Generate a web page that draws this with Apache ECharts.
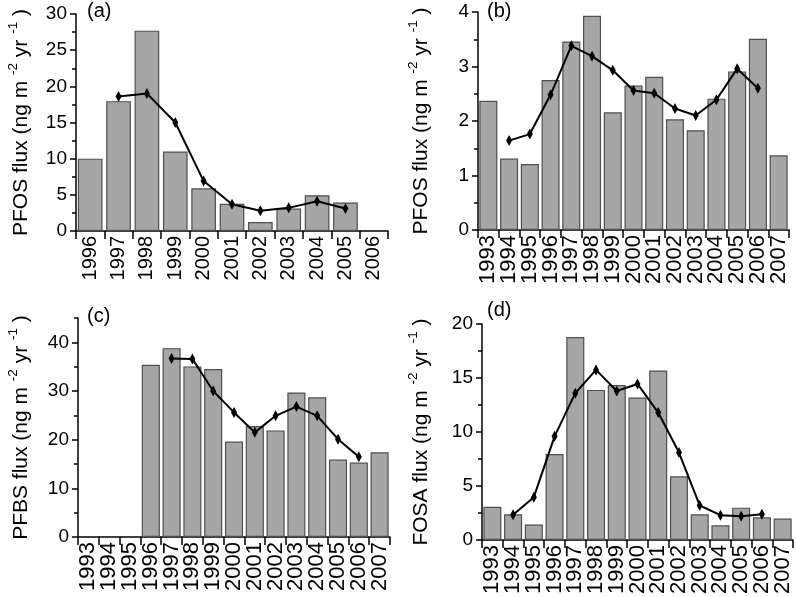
<!DOCTYPE html>
<html>
<head>
<meta charset="utf-8">
<script src="https://cdn.jsdelivr.net/npm/echarts@6/dist/echarts.min.js"></script>
<style>html,body{margin:0;padding:0;background:#fff}#c{width:796px;height:597px}</style>
</head>
<body>
<div id="c"></div>
<script>
// ---- data ----
var yearsA = ['1996','1997','1998','1999','2000','2001','2002','2003','2004','2005','2006'];
var yearsB = ['1993','1994','1995','1996','1997','1998','1999','2000','2001','2002','2003','2004','2005','2006','2007'];

var aBars = [10.0, 17.95, 27.7, 11.0, 5.9, 3.75, 1.25, 3.1, 4.95, 3.95, null];
var aLine = [null, 18.6, 19.0, 15.0, 6.9, 3.7, 2.8, 3.2, 4.1, 3.1, null];

var bBars = [2.37, 1.31, 1.21, 2.75, 3.46, 3.93, 2.16, 2.65, 2.81, 2.03, 1.83, 2.41, 2.91, 3.51, 1.37];
var bLine = [null, 1.64, 1.76, 2.48, 3.38, 3.19, 2.93, 2.56, 2.51, 2.23, 2.10, 2.39, 2.96, 2.60, null];

var cBars = [null, null, null, 35.4, 38.8, 35.05, 34.5, 19.6, 22.8, 21.9, 29.7, 28.7, 15.9, 15.3, 17.4];
var cLine = [null, null, null, null, 36.7, 36.6, 30.0, 25.6, 21.5, 24.9, 26.8, 24.9, 20.1, 16.5, null];

var dBars = [3.08, 2.38, 1.44, 7.97, 18.8, 13.9, 14.35, 13.2, 15.7, 5.9, 2.38, 1.37, 3.0, 2.1, 2.0];
var dLine = [null, 2.35, 3.97, 9.6, 13.6, 15.75, 13.8, 14.45, 11.8, 8.1, 3.2, 2.3, 2.2, 2.4, null];

var ticksA = [0, 5, 10, 15, 20, 25, 30];
var minorA = [2.5, 7.5, 12.5, 17.5, 22.5, 27.5];
var ticksB = [0, 1, 2, 3, 4];
var minorB = [0.5, 1.5, 2.5, 3.5];
var ticksC = [0, 10, 20, 30, 40];
var minorC = [5, 15, 25, 35, 45];
var ticksD = [0, 5, 10, 15, 20];
var minorD = [2.5, 7.5, 12.5, 17.5];

var panelLabels = ['(a)', '(b)', '(c)', '(d)'];
var yTitles = ['PFOS', 'PFOS', 'PFBS', 'FOSA'];

// ---- chart ----
var FONT = '"Liberation Sans", Arial, sans-serif';
var panels = [
  {cats: yearsA, bars: aBars, line: aLine, max: 30, ticks: ticksA, minor: minorA, grid: {left: 76, top: 14, width: 312, height: 217}, xfs: 20, gap: 44, lab: [87, 1]},
  {cats: yearsB, bars: bBars, line: bLine, max: 4, ticks: ticksB, minor: minorB, grid: {left: 478, top: 12, width: 311, height: 218}, xfs: 22, gap: 46, lab: [487, 1]},
  {cats: yearsB, bars: cBars, line: cLine, max: 45, ticks: ticksC, minor: minorC, grid: {left: 78, top: 318, width: 312, height: 219}, xfs: 22, gap: 46, lab: [87, 306]},
  {cats: yearsB, bars: dBars, line: dLine, max: 20, ticks: ticksD, minor: minorD, grid: {left: 482, top: 324, width: 311, height: 219}, xfs: 22, gap: 50, lab: [487, 300]}
];

var option = {
  animation: false,
  backgroundColor: '#fff',
  textStyle: {fontFamily: FONT},
  grid: [], xAxis: [], yAxis: [], series: [], graphic: []
};

panels.forEach(function (p, i) {
  option.grid.push(p.grid);
  option.xAxis.push({
    type: 'category', gridIndex: i, data: p.cats, boundaryGap: true,
    axisLine: {show: true, lineStyle: {color: '#000', width: 1.5}},
    axisTick: {show: true, length: 8, lineStyle: {color: '#000', width: 1.5}},
    axisLabel: {rotate: 90, interval: 0, color: '#000', fontSize: p.xfs, fontFamily: FONT, margin: 5},
    splitLine: {show: false}
  });
  var axisMain = {
    type: 'value', gridIndex: i, min: 0, max: p.max,
    name: '{n|' + yTitles[i] + ' flux (ng m }{s|-2}{n| yr }{s|-1}{n| )}',
    nameLocation: 'middle', nameGap: p.gap, nameRotate: 90,
    nameTextStyle: {
      fontFamily: FONT,
      rich: {
        n: {fontSize: 21, color: '#000', fontFamily: FONT, lineHeight: 26, verticalAlign: 'bottom'},
        s: {fontSize: 13.5, color: '#000', fontFamily: FONT, lineHeight: 26, verticalAlign: 'top'}
      }
    },
    axisLine: {show: true, onZero: false, lineStyle: {color: '#000', width: 1.5}},
    axisTick: {show: true, length: 6, customValues: p.ticks, lineStyle: {color: '#000', width: 1.5}},
    axisLabel: {color: '#000', fontSize: 19, fontFamily: FONT, margin: 9, customValues: p.ticks},
    splitLine: {show: false}
  };
  var axisMinor = {
    type: 'value', gridIndex: i, min: 0, max: p.max, position: 'left',
    axisLine: {show: false},
    axisTick: {show: true, length: 4, customValues: p.minor, lineStyle: {color: '#000', width: 1.5}},
    axisLabel: {show: false},
    splitLine: {show: false}
  };
  option.yAxis.push(axisMain);
  option.yAxis.push(axisMinor);
  option.series.push({
    type: 'bar', xAxisIndex: i, yAxisIndex: 2 * i, data: p.bars,
    barCategoryGap: '13%',
    itemStyle: {color: '#a6a6a6', borderColor: '#4f4f4f', borderWidth: 1.2},
    z: 2
  });
  option.series.push({
    type: 'line', xAxisIndex: i, yAxisIndex: 2 * i, data: p.line,
    lineStyle: {color: '#000', width: 2},
    itemStyle: {color: '#000'},
    symbol: 'path://M0,-1L0.5,0L0,1L-0.5,0Z', symbolSize: [6, 11],
    showSymbol: true, z: 5
  });
  option.graphic.push({
    type: 'text', left: p.lab[0], top: p.lab[1],
    style: {text: panelLabels[i], fontSize: 20, fontFamily: FONT, fill: '#000'}
  });
});

var chart = echarts.init(document.getElementById('c'), null, {renderer: 'canvas'});
chart.setOption(option);
</script>
</body>
</html>
